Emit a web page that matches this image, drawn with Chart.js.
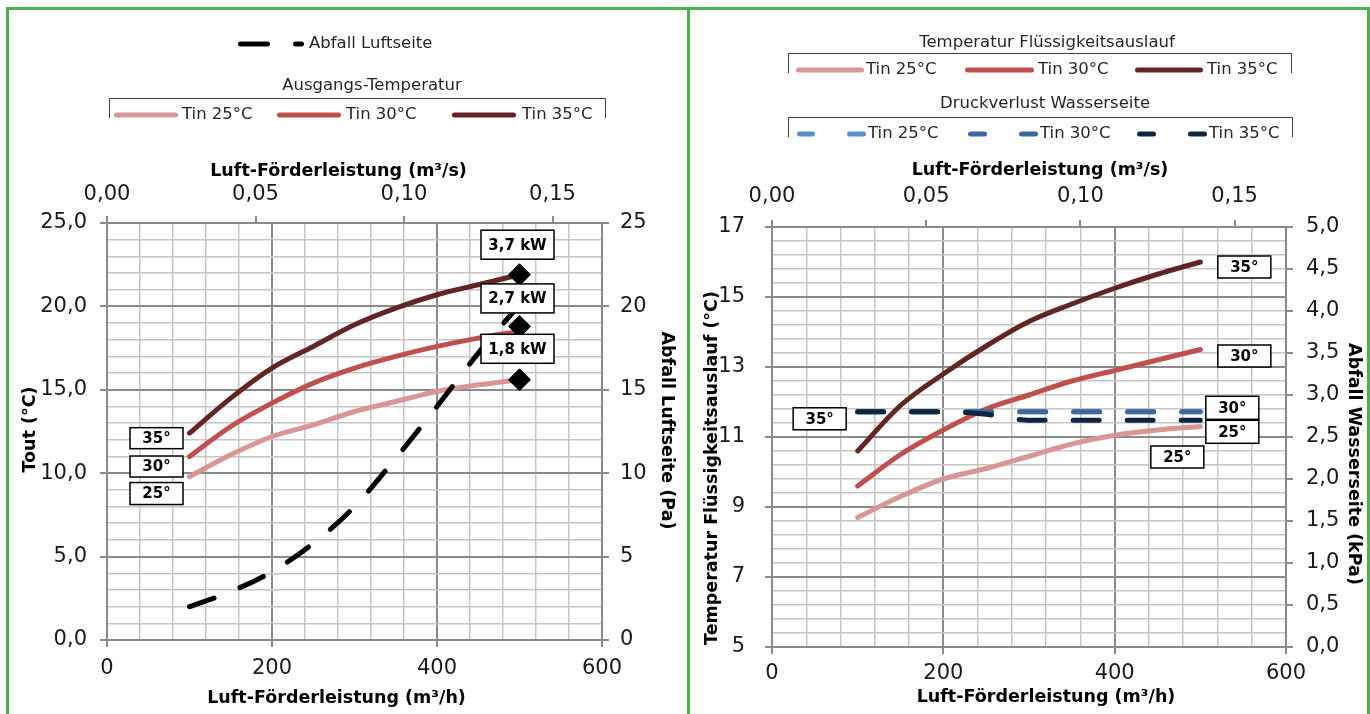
<!DOCTYPE html>
<html><head><meta charset="utf-8">
<script src="https://cdn.jsdelivr.net/npm/chart.js@4.4.1/dist/chart.umd.min.js"></script>
<style>
html,body{margin:0;padding:0;background:#fff;}
body{width:1370px;height:714px;position:relative;overflow:hidden;}
.frame{position:absolute;background:#4CAF50;}
#w1{position:absolute;left:10px;top:10px;width:677px;height:704px;}
#w2{position:absolute;left:691px;top:10px;width:676px;height:704px;}
</style></head>
<body>
<div class="frame" style="left:6px;top:7px;width:1364px;height:3px"></div>
<div class="frame" style="left:6px;top:7px;width:3px;height:707px"></div>
<div class="frame" style="left:687px;top:7px;width:3px;height:707px"></div>
<div class="frame" style="left:1367px;top:7px;width:3px;height:707px"></div>
<div id="w1"><canvas id="c1" width="677" height="704"></canvas></div>
<div id="w2"><canvas id="c2" width="676" height="704"></canvas></div>
<script>
// ---------- data ----------
const flow = [100, 150, 200, 250, 300, 350, 400, 450, 500];           // m³/h
const toutTin25 = [9.8, 11.1, 12.2, 12.9, 13.7, 14.3, 14.9, 15.3, 15.6];
const toutTin30 = [11.0, 12.8, 14.2, 15.4, 16.3, 17.0, 17.6, 18.1, 18.5];
const toutTin35 = [12.4, 14.5, 16.3, 17.6, 18.9, 19.9, 20.7, 21.3, 21.9];
const abfallLuftseite = [2.0, 2.9, 4.1, 5.8, 8.0, 10.9, 14.0, 17.2, 20.1]; // Pa
const kwFlow = [500, 500, 500];
const kwTout = [21.9, 18.8, 15.6];
const kwLabels = ['3,7 kW', '2,7 kW', '1,8 kW'];

const fluidTin25 = [8.7, 9.3, 9.8, 10.1, 10.45, 10.8, 11.05, 11.2, 11.3];
const fluidTin30 = [9.6, 10.5, 11.2, 11.8, 12.2, 12.6, 12.9, 13.2, 13.5];
const fluidTin35 = [10.6, 11.9, 12.8, 13.6, 14.3, 14.8, 15.25, 15.65, 16.0];
const waterTin25 = [2.8, 2.8, 2.8, 2.8, 2.8, 2.8, 2.8, 2.8, 2.8];      // kPa
const waterTin30 = [2.8, 2.8, 2.8, 2.8, 2.8, 2.8, 2.8, 2.8, 2.8];
const waterTin35 = [2.8, 2.8, 2.8, 2.77, 2.7, 2.7, 2.7, 2.7, 2.7];

const seriesNames = ['Tin 25°C', 'Tin 30°C', 'Tin 35°C'];
const degLabels = ['25°', '30°', '35°'];
const titleFlowH = 'Luft-Förderleistung (m³/h)';
const titleFlowS = 'Luft-Förderleistung (m³/s)';

// ---------- styles ----------
const C25 = '#D99694', C30 = '#C0504D', C35 = '#632523';
const B25 = '#5A8FD2', B30 = '#3C689E', B35 = '#0F2640';
const MAJOR = '#8a8a8a', MINOR = '#c6c6c6';
const FONT = "'DejaVu Sans', sans-serif";
Chart.defaults.font.family = FONT;
Chart.defaults.color = '#1a1a1a';

const pts = (xs, ys) => xs.map((x, i) => ({x, y: ys[i]}));
const comma = (v, d) => v.toFixed(d).replace('.', ',');

function grid(isMajor) {
  const mj = c => c.tick && isMajor(c.tick.value);
  return {
    color: c => mj(c) ? MAJOR : MINOR,
    lineWidth: c => mj(c) ? 2 : 1.5,
    tickColor: c => mj(c) ? MAJOR : 'rgba(0,0,0,0)',
    tickLength: 7
  };
}
const fixW = w => s => { s.width = w; };
const fixH = h => s => { s.height = h; };
const tickFont = {size: 21};
const sideGrid = {drawOnChartArea: false, color: MAJOR, lineWidth: 2, tickLength: 7};
const border = {color: MAJOR, width: 2};

function lineDs(label, xs, ys, color, axis, dashed) {
  return {
    label, data: pts(xs, ys), borderColor: color, backgroundColor: color,
    borderWidth: 5, pointRadius: 0, tension: 0.4, cubicInterpolationMode: 'monotone',
    borderCapStyle: 'round', borderDash: dashed ? [26, 28] : [], yAxisID: axis
  };
}

function drawBox(ctx, cx, cy, w, h, text, size) {
  ctx.save();
  ctx.fillStyle = '#fff'; ctx.strokeStyle = '#000'; ctx.lineWidth = 1.5;
  ctx.fillRect(cx - w / 2, cy - h / 2, w, h);
  ctx.strokeRect(cx - w / 2, cy - h / 2, w, h);
  ctx.fillStyle = '#000'; ctx.font = 'bold ' + size + 'px ' + FONT;
  ctx.textAlign = 'center'; ctx.textBaseline = 'middle';
  ctx.fillText(text, cx, cy + 1);
  ctx.restore();
}
function seg(ctx, x1, x2, y, color) {
  ctx.save(); ctx.strokeStyle = color; ctx.lineWidth = 5; ctx.lineCap = 'round';
  ctx.beginPath(); ctx.moveTo(x1, y); ctx.lineTo(x2, y); ctx.stroke(); ctx.restore();
}
function txt(ctx, s, x, y, align) {
  ctx.save(); ctx.fillStyle = '#262626'; ctx.font = '16.5px ' + FONT;
  ctx.textAlign = align || 'left'; ctx.textBaseline = 'middle';
  ctx.fillText(s, x, y); ctx.restore();
}
function axisTitle(ctx, s, x, y, rot) {
  ctx.save(); ctx.translate(x, y); ctx.rotate(rot || 0);
  ctx.fillStyle = '#000'; ctx.font = 'bold 17.5px ' + FONT;
  ctx.textAlign = 'center'; ctx.textBaseline = 'middle';
  ctx.fillText(s, 0, 0); ctx.restore();
}
function bracket(ctx, x1, x2, y1, y2) {
  ctx.save(); ctx.strokeStyle = '#404040'; ctx.lineWidth = 1;
  ctx.beginPath(); ctx.moveTo(x1 + .5, y2); ctx.lineTo(x1 + .5, y1 + .5);
  ctx.lineTo(x2 + .5, y1 + .5); ctx.lineTo(x2 + .5, y2); ctx.stroke(); ctx.restore();
}
function boxLabels(specs) {
  return {
    id: 'boxLabels',
    afterDatasetsDraw(chart) {
      const ctx = chart.ctx;
      specs.forEach(s => {
        const el = chart.getDatasetMeta(s.ds).data[s.pt];
        drawBox(ctx, el.x + s.dx, el.y + s.dy, s.w, s.h, s.text, s.size);
      });
    }
  };
}
function titles(specs) {
  return {
    id: 'axisTitles',
    afterDraw(chart) {
      const a = chart.chartArea, cx = (a.left + a.right) / 2, cy = (a.top + a.bottom) / 2;
      specs.forEach(s => {
        const x = s.side === 'h' ? cx + s.d : s.x;
        const y = s.side === 'h' ? s.y : cy + s.d;
        axisTitle(chart.ctx, s.text, x, y, s.rot);
      });
    }
  };
}

// ---------- left chart ----------
const leftLegend = {
  id: 'leftLegend',
  afterDraw(chart) {
    const ctx = chart.ctx;
    seg(ctx, 230.5, 257.5, 34, '#000');
    seg(ctx, 285.5, 291.5, 34, '#000');
    txt(ctx, 'Abfall Luftseite', 299, 34);
    txt(ctx, 'Ausgangs-Temperatur', 362, 76, 'center');
    bracket(ctx, 99, 595, 88, 108);
    const cols = [C25, C30, C35];
    const lx = [[106.5, 165.5, 172], [269.5, 328.5, 336], [444.5, 503.5, 512]];
    lx.forEach((p, i) => { seg(ctx, p[0], p[1], 105, cols[i]); txt(ctx, seriesNames[i], p[2], 105); });
  }
};

const leftSpecs = [
  {ds: 2, pt: 0, text: degLabels[2], dx: -33, dy: 5, w: 53, h: 21, size: 15},
  {ds: 3, pt: 0, text: degLabels[1], dx: -33, dy: 10, w: 53, h: 21, size: 15},
  {ds: 4, pt: 0, text: degLabels[0], dx: -33, dy: 17, w: 53, h: 22, size: 15},
  {ds: 0, pt: 0, text: kwLabels[0], dx: -2, dy: -30, w: 73, h: 29, size: 15},
  {ds: 0, pt: 1, text: kwLabels[1], dx: -2, dy: -28, w: 73, h: 29, size: 15},
  {ds: 0, pt: 2, text: kwLabels[2], dx: -2, dy: -31, w: 73, h: 29, size: 15}
];
const leftTitles = [
  {side: 'h', text: titleFlowH, d: -18, y: 688},
  {side: 'h', text: titleFlowS, d: -16, y: 161},
  {side: 'v', text: 'Tout (°C)', x: 20, d: -2, rot: -Math.PI / 2},
  {side: 'v', text: 'Abfall Luftseite (Pa)', x: 657, d: -1, rot: Math.PI / 2}
];

new Chart(document.getElementById('c1'), {
  type: 'line',
  data: {
    datasets: [
      {label: 'kW', data: pts(kwFlow, kwTout), showLine: false, pointStyle: 'rectRot',
       pointRadius: 11, pointBackgroundColor: '#000', pointBorderColor: '#000', yAxisID: 'y'},
      lineDs('Abfall Luftseite', flow, abfallLuftseite, '#000', 'y2', true),
      lineDs(seriesNames[2], flow, toutTin35, C35, 'y'),
      lineDs(seriesNames[1], flow, toutTin30, C30, 'y'),
      lineDs(seriesNames[0], flow, toutTin25, C25, 'y')
    ]
  },
  options: {
    responsive: false, animation: false, events: [],
    layout: {padding: {top: 140, left: 0, right: 0, bottom: 0}},
    plugins: {legend: {display: false}, tooltip: {enabled: false}},
    scales: {
      x: {type: 'linear', position: 'bottom', min: 0, max: 600,
          ticks: {stepSize: 40, autoSkip: false, maxRotation: 0, padding: 9, font: tickFont,
                  callback: v => v % 200 === 0 ? String(v) : ''},
          grid: grid(v => v % 200 === 0), border, afterFit: fixH(74)},
      x2: {type: 'linear', position: 'top', min: 0, max: 600 / 3600,
           ticks: {stepSize: 0.05, includeBounds: false, autoSkip: false, maxRotation: 0, padding: 9, font: tickFont,
                   callback: v => comma(v, 2)},
           grid: sideGrid, border, afterFit: fixH(73)},
      y: {type: 'linear', position: 'left', min: 0, max: 25,
          ticks: {stepSize: 1, autoSkip: false, padding: 13, font: tickFont,
                  callback: v => v % 5 === 0 ? comma(v, 1) : ''},
          grid: grid(v => v % 5 === 0), border, afterFit: fixW(97)},
      y2: {type: 'linear', position: 'right', min: 0, max: 25,
           ticks: {stepSize: 5, padding: 11, font: tickFont, callback: v => String(v)},
           grid: sideGrid, border, afterFit: fixW(85)}
    }
  },
  plugins: [leftLegend, boxLabels(leftSpecs), titles(leftTitles)]
});

// ---------- right chart ----------
const rightLegend = {
  id: 'rightLegend',
  afterDraw(chart) {
    const ctx = chart.ctx;
    txt(ctx, 'Temperatur Flüssigkeitsauslauf', 356, 33, 'center');
    bracket(ctx, 97, 600, 43, 63);
    const cols = [C25, C30, C35];
    const lx = [[107.5, 170.5, 175], [276.5, 340.5, 347], [446.5, 509.5, 516]];
    lx.forEach((p, i) => { seg(ctx, p[0], p[1], 60, cols[i]); txt(ctx, seriesNames[i], p[2], 60); });
    txt(ctx, 'Druckverlust Wasserseite', 354, 94, 'center');
    bracket(ctx, 97, 601, 107, 127);
    const bcols = [B25, B30, B35];
    const dx = [[108.5, 121.5, 158.5, 172.5, 177], [279.5, 293.5, 330.5, 344.5, 349], [448.5, 462.5, 499.5, 513.5, 518]];
    dx.forEach((p, i) => {
      seg(ctx, p[0], p[1], 124, bcols[i]); seg(ctx, p[2], p[3], 124, bcols[i]);
      txt(ctx, seriesNames[i], p[4], 124);
    });
  }
};
const isMajR = v => { const k = (v - 5) / 2; return Math.abs(k - Math.round(k)) < 1e-6; };

const rightSpecs = [
  {ds: 3, pt: 8, text: degLabels[2], dx: 44, dy: 5, w: 53, h: 22, size: 15},
  {ds: 4, pt: 8, text: degLabels[1], dx: 44, dy: 6.5, w: 53, h: 22, size: 15},
  {ds: 5, pt: 8, text: degLabels[0], dx: -23, dy: 30.5, w: 53, h: 22, size: 15},
  {ds: 0, pt: 0, text: degLabels[2], dx: -38, dy: 7, w: 53, h: 22, size: 15},
  {ds: 1, pt: 8, text: degLabels[1], dx: 32, dy: -4, w: 53, h: 23, size: 15},
  {ds: 2, pt: 8, text: degLabels[0], dx: 32, dy: 20, w: 53, h: 23, size: 15}
];
const rightTitles = [
  {side: 'h', text: titleFlowH, d: 17, y: 687},
  {side: 'h', text: titleFlowS, d: 11, y: 160},
  {side: 'v', text: 'Temperatur Flüssigkeitsauslauf (°C)', x: 21, d: 31, rot: -Math.PI / 2},
  {side: 'v', text: 'Abfall Wasserseite (kPa)', x: 663, d: 27, rot: Math.PI / 2}
];

new Chart(document.getElementById('c2'), {
  type: 'line',
  data: {
    datasets: [
      lineDs(seriesNames[2], flow, waterTin35, B35, 'y2', true),
      lineDs(seriesNames[1], flow, waterTin30, B30, 'y2', true),
      lineDs(seriesNames[0], flow, waterTin25, B25, 'y2', true),
      lineDs(seriesNames[2], flow, fluidTin35, C35, 'y'),
      lineDs(seriesNames[1], flow, fluidTin30, C30, 'y'),
      lineDs(seriesNames[0], flow, fluidTin25, C25, 'y')
    ]
  },
  options: {
    responsive: false, animation: false, events: [],
    layout: {padding: {top: 140, left: 0, right: 0, bottom: 0}},
    plugins: {legend: {display: false}, tooltip: {enabled: false}},
    scales: {
      x: {type: 'linear', position: 'bottom', min: 0, max: 600,
          ticks: {stepSize: 40, autoSkip: false, maxRotation: 0, padding: 7, font: tickFont,
                  callback: v => v % 200 === 0 ? String(v) : ''},
          grid: grid(v => v % 200 === 0), border, afterFit: fixH(67)},
      x2: {type: 'linear', position: 'top', min: 0, max: 600 / 3600,
           ticks: {stepSize: 0.05, includeBounds: false, autoSkip: false, maxRotation: 0, padding: 11, font: tickFont,
                   callback: v => comma(v, 2)},
           grid: sideGrid, border, afterFit: fixH(77)},
      y: {type: 'linear', position: 'left', min: 5, max: 17,
          ticks: {stepSize: 0.4, autoSkip: false, padding: 20, font: tickFont,
                  callback: v => isMajR(v) ? String(Math.round(v)) : ''},
          grid: grid(isMajR), border, afterFit: fixW(81)},
      y2: {type: 'linear', position: 'right', min: 0, max: 5,
           ticks: {stepSize: 0.5, padding: 13, font: tickFont, callback: v => comma(v, 1)},
           grid: sideGrid, border, afterFit: fixW(81)}
    }
  },
  plugins: [rightLegend, boxLabels(rightSpecs), titles(rightTitles)]
});
</script>
</body></html>
